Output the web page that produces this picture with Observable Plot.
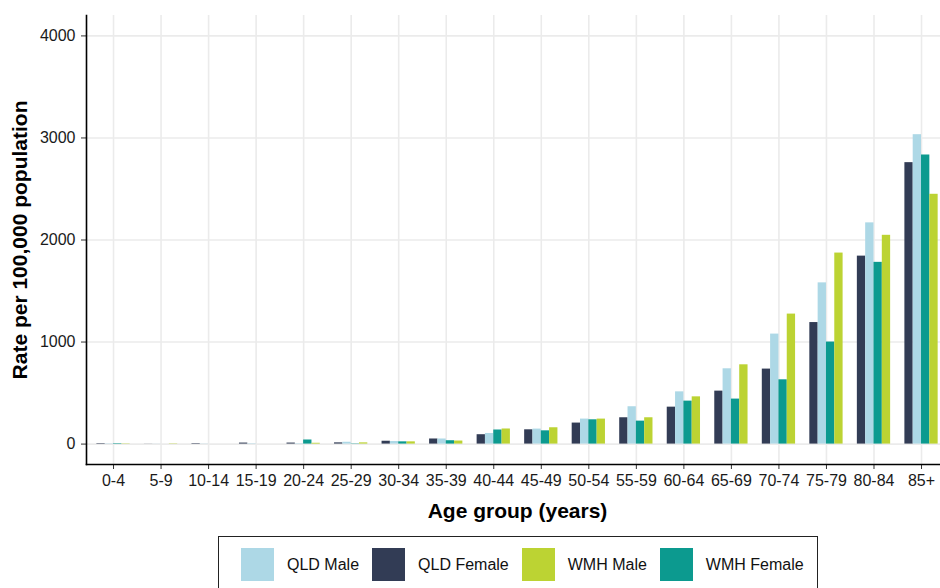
<!DOCTYPE html>
<html>
<head>
<meta charset="utf-8">
<script src="https://cdn.jsdelivr.net/npm/d3@7"></script>
<script src="https://cdn.jsdelivr.net/npm/@observablehq/plot@0.6"></script>
<style>
  html, body { margin: 0; padding: 0; background: #fff; }
  body { font-family: "Liberation Sans", Arial, sans-serif; width: 940px; height: 588px; overflow: hidden; }
  #chart svg { display: block; }
  .legend {
    box-sizing: border-box;
    margin-left: 218px; margin-top: 6px;
    width: 600px; height: 70px;
    border: 1.3px solid #222;
    display: flex; align-items: flex-start;
    padding: 11px 0 0 22px;
    font-size: 16px; color: #111;
  }
  .legend .item { display: flex; align-items: center; margin-right: 13px; }
  .legend .sw { width: 33px; height: 33px; margin-right: 13px; }
</style>
</head>
<body>
<div id="chart"></div>
<script>
// ---- data ----
const ages = ["0-4","5-9","10-14","15-19","20-24","25-29","30-34","35-39","40-44","45-49","50-54","55-59","60-64","65-69","70-74","75-79","80-84","85+"];
const qldMale   = [3, 1, 2, 4, 4, 18, 25, 50, 104, 147, 245, 366, 512, 738, 1078, 1580, 2168, 3032];
const qldFemale = [5, 1, 5, 10, 10, 12, 28, 50, 92, 140, 206, 258, 362, 519, 735, 1191, 1842, 2758];
const wmhMale   = [3, 3, 0, 0, 8, 12, 22, 30, 148, 160, 245, 258, 463, 777, 1274, 1872, 2046, 2448];
const wmhFemale = [5, 0, 0, 0, 40, 3, 22, 33, 138, 130, 238, 225, 421, 441, 630, 1000, 1781, 2833];

const seriesNames = ["QLD Male", "QLD Female", "WMH Male", "WMH Female"];
const seriesColors = ["#ADD8E6", "#323C55", "#BCD333", "#0C9A8F"];
const barOrder = ["QLD Female", "QLD Male", "WMH Female", "WMH Male"];
const yTicks = [0, 1000, 2000, 3000, 4000];

const valuesBySeries = {
  "QLD Male": qldMale, "QLD Female": qldFemale,
  "WMH Male": wmhMale, "WMH Female": wmhFemale
};
const rows = [];
for (const s of seriesNames) ages.forEach((a, i) => rows.push({age: a, series: s, value: valuesBySeries[s][i]}));

// ---- layout ----
const W = 940, H = 530, mL = 86, mR = 0, mT = 15, mB = 66;
const padIn = 0.3, padOut = 0.134;
const step = (W - mL - mR) / (ages.length - padIn + 2 * padOut);
const sub = step * (1 - padIn) / barOrder.length;

const bars = barOrder.map((s, k) =>
  Plot.barY(rows.filter(d => d.series === s), {
    x: "age", y: "value", fill: "series",
    insetLeft: k * sub, insetRight: (barOrder.length - 1 - k) * sub
  })
);

const chart = Plot.plot({
  width: W, height: H,
  marginLeft: mL, marginRight: mR, marginTop: mT, marginBottom: mB,
  style: {fontFamily: "'Liberation Sans', Arial, sans-serif", color: "#1a1a1a", background: "#fff"},
  x: {type: "band", domain: ages, paddingInner: padIn, paddingOuter: padOut, align: 0.816, round: false},
  y: {domain: [-200, 4200]},
  color: {domain: seriesNames, range: seriesColors},
  marks: [
    Plot.gridY(yTicks, {stroke: "#ebebeb", strokeOpacity: 1, strokeWidth: 1.6}),
    Plot.gridX(ages, {stroke: "#ebebeb", strokeOpacity: 1, strokeWidth: 1.6}),
    ...bars,
    Plot.axisY(yTicks, {tickSize: 5, tickPadding: 6, fontSize: 16, label: null, stroke: "#333", tickFormat: d => String(d)}),
    Plot.axisX({tickSize: 5, tickPadding: 5, fontSize: 16, label: null, stroke: "#333"}),
    Plot.frame({anchor: "left", stroke: "#000", strokeWidth: 1.6}),
    Plot.frame({anchor: "bottom", stroke: "#000", strokeWidth: 1.6}),
    Plot.text(["Age group (years)"], {frameAnchor: "bottom", lineAnchor: "middle", textAnchor: "middle", dx: 4, dy: 47, fontWeight: "bold", fontSize: 21, fill: "#000"}),
    Plot.text(["Rate per 100,000 population"], {frameAnchor: "left", lineAnchor: "middle", textAnchor: "middle", dx: -66, rotate: -90, fontWeight: "bold", fontSize: 21, fill: "#000"})
  ]
});
document.getElementById("chart").append(chart);

// ---- legend ----
const legend = document.createElement("div");
legend.className = "legend";
seriesNames.forEach((s, i) => {
  const item = document.createElement("div");
  item.className = "item";
  const sw = document.createElement("div");
  sw.className = "sw";
  sw.style.background = seriesColors[i];
  const lab = document.createElement("span");
  lab.textContent = s;
  item.append(sw, lab);
  legend.append(item);
});
document.body.append(legend);
</script>
</body>
</html>
